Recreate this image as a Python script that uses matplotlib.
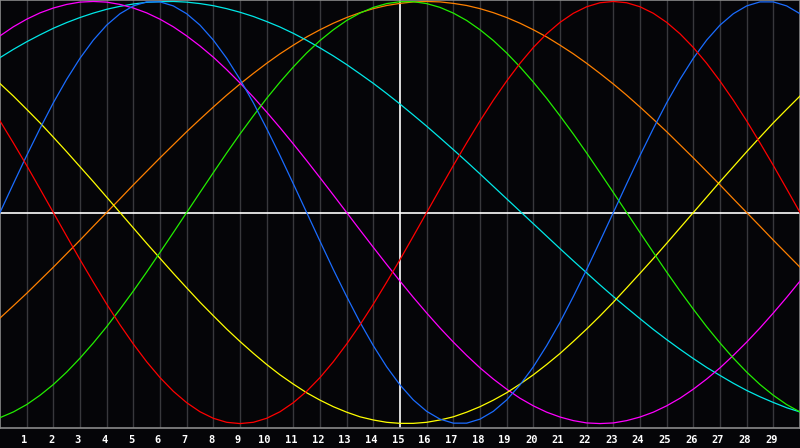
import matplotlib
matplotlib.use("Agg")
import matplotlib.pyplot as plt

# sample positions (days, every half day)
days = [i * 0.5 for i in range(61)]
tick_days = list(range(1, 30))
tick_labels = [str(d) for d in tick_days]

red = [0.434, 0.330, 0.223, 0.112, 0.0, -0.112, -0.223, -0.330, -0.434, -0.532,
       -0.623, -0.707, -0.782, -0.847, -0.901, -0.944, -0.975, -0.994, -1.0, -0.994,
       -0.975, -0.944, -0.901, -0.847, -0.782, -0.707, -0.623, -0.532, -0.434, -0.330,
       -0.223, -0.112, 0.0, 0.112, 0.223, 0.330, 0.434, 0.532, 0.623, 0.707,
       0.782, 0.847, 0.901, 0.944, 0.975, 0.994, 1.0, 0.994, 0.975, 0.944,
       0.901, 0.847, 0.782, 0.707, 0.623, 0.532, 0.434, 0.330, 0.223, 0.112, 0.0]
blue = [0.0, 0.136, 0.270, 0.398, 0.520, 0.631, 0.731, 0.817, 0.888, 0.942,
        0.979, 0.998, 0.998, 0.979, 0.942, 0.888, 0.817, 0.731, 0.631, 0.520,
        0.398, 0.270, 0.136, 0.0, -0.136, -0.270, -0.398, -0.520, -0.631, -0.731,
        -0.817, -0.888, -0.942, -0.979, -0.998, -0.998, -0.979, -0.942, -0.888, -0.817,
        -0.731, -0.631, -0.520, -0.398, -0.270, -0.136, 0.0, 0.136, 0.270, 0.398,
        0.520, 0.631, 0.731, 0.817, 0.888, 0.942, 0.979, 0.998, 0.998, 0.979, 0.942]
green = [-0.972, -0.945, -0.910, -0.866, -0.815, -0.756, -0.690, -0.618, -0.541, -0.458,
         -0.372, -0.282, -0.189, -0.095, 0.0, 0.095, 0.189, 0.282, 0.372, 0.458,
         0.541, 0.618, 0.690, 0.756, 0.815, 0.866, 0.910, 0.945, 0.972, 0.990,
         0.999, 0.999, 0.990, 0.972, 0.945, 0.910, 0.866, 0.815, 0.756, 0.690,
         0.618, 0.541, 0.458, 0.372, 0.282, 0.189, 0.095, 0.0, -0.095, -0.189,
         -0.282, -0.372, -0.458, -0.541, -0.618, -0.690, -0.756, -0.815, -0.866, -0.910, -0.945]
orange = [-0.5, -0.442, -0.383, -0.321, -0.259, -0.195, -0.131, -0.065, 0.0, 0.065,
          0.131, 0.195, 0.259, 0.321, 0.383, 0.442, 0.5, 0.556, 0.609, 0.659,
          0.707, 0.752, 0.793, 0.832, 0.866, 0.897, 0.924, 0.947, 0.966, 0.981,
          0.991, 0.998, 1.0, 0.998, 0.991, 0.981, 0.966, 0.947, 0.924, 0.897,
          0.866, 0.832, 0.793, 0.752, 0.707, 0.659, 0.609, 0.556, 0.5, 0.442,
          0.383, 0.321, 0.259, 0.195, 0.131, 0.065, 0.0, -0.065, -0.131, -0.195, -0.259]
yellow = [0.611, 0.552, 0.489, 0.425, 0.357, 0.288, 0.217, 0.146, 0.073, 0.0,
          -0.073, -0.146, -0.217, -0.288, -0.357, -0.425, -0.489, -0.552, -0.611, -0.667,
          -0.720, -0.769, -0.813, -0.854, -0.889, -0.920, -0.946, -0.968, -0.983, -0.994,
          -0.999, -0.999, -0.994, -0.983, -0.968, -0.946, -0.920, -0.889, -0.854, -0.813,
          -0.769, -0.720, -0.668, -0.611, -0.552, -0.490, -0.425, -0.357, -0.288, -0.218,
          -0.146, -0.073, 0.0, 0.073, 0.146, 0.217, 0.288, 0.357, 0.425, 0.489, 0.552]
cyan = [0.734, 0.773, 0.809, 0.842, 0.873, 0.900, 0.924, 0.945, 0.963, 0.977,
        0.988, 0.996, 0.999, 1.0, 0.997, 0.990, 0.980, 0.966, 0.949, 0.929,
        0.905, 0.879, 0.849, 0.816, 0.780, 0.742, 0.701, 0.657, 0.612, 0.564,
        0.514, 0.462, 0.409, 0.354, 0.298, 0.241, 0.183, 0.124, 0.065, 0.006,
        -0.053, -0.112, -0.171, -0.229, -0.286, -0.343, -0.398, -0.451, -0.503, -0.554,
        -0.602, -0.648, -0.692, -0.734, -0.772, -0.809, -0.843, -0.873, -0.900, -0.925, -0.945]
magenta = [0.837, 0.880, 0.916, 0.946, 0.969, 0.986, 0.997, 1.0, 0.997, 0.986,
           0.969, 0.946, 0.916, 0.880, 0.837, 0.789, 0.736, 0.677, 0.614, 0.547,
           0.476, 0.402, 0.325, 0.246, 0.165, 0.083, 0.0, -0.083, -0.165, -0.246,
           -0.325, -0.402, -0.476, -0.547, -0.614, -0.677, -0.736, -0.789, -0.837, -0.880,
           -0.916, -0.946, -0.969, -0.986, -0.997, -1.0, -0.997, -0.986, -0.969, -0.946,
           -0.916, -0.880, -0.837, -0.789, -0.736, -0.677, -0.614, -0.547, -0.476, -0.402, -0.325]

series = [
    (orange, "#ff8000"),
    (cyan, "#00e8e8"),
    (magenta, "#ff00ff"),
    (yellow, "#ffff00"),
    (green, "#22ee00"),
    (blue, "#1a6cff"),
    (red, "#ff0000"),
]

BG = "#050508"
fig = plt.figure(figsize=(8, 4.48), dpi=100, facecolor=BG)
ax = fig.add_axes([0, 20 / 448, 1, 428 / 448])
ax.set_facecolor(BG)

for d in tick_days:
    if d == 15:
        continue
    ax.axvline(d, color="#38383c", lw=1.0, zorder=1)
ax.axvline(15, color="#ffffff", lw=1.2, zorder=2)
ax.axhline(0, color="#ffffff", lw=1.2, zorder=2)

for vals, col in series:
    ax.plot(days, vals, color=col, lw=0.9, zorder=3, solid_joinstyle="round")

ax.set_xlim(0, 30)
ax.set_ylim(-1.021, 1.007)
ax.set_yticks([])
ax.set_xticks([d - 0.08 for d in tick_days])
ax.set_xticklabels(tick_labels, color="white", fontsize=7.5,
                   fontweight="bold", family="DejaVu Sans Mono")
ax.tick_params(axis="x", length=0, pad=5)
for s in ["left", "top", "bottom", "right"]:
    ax.spines[s].set_color("#8a8a8a")
    ax.spines[s].set_linewidth(1.2)

fig.savefig("out.png", dpi=100, facecolor=BG)
